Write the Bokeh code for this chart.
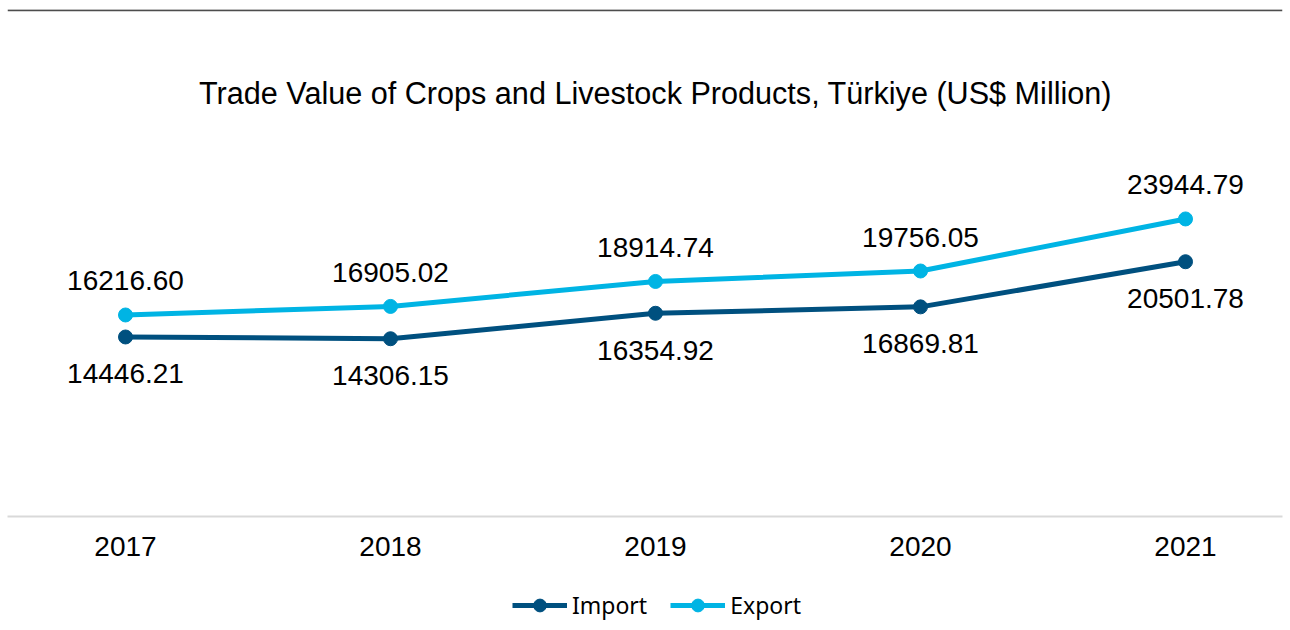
from bokeh.plotting import figure
from bokeh.layouts import column
from bokeh.core.properties import value
from bokeh.models import (ColumnDataSource, Range1d, FixedTicker, LabelSet, Label,
                          Span, Legend, LegendItem)
from bokeh.embed import file_html
from bokeh.resources import INLINE

years = ["2017", "2018", "2019", "2020", "2021"]
import_vals = [14446.21, 14306.15, 16354.92, 16869.81, 20501.78]
export_vals = [16216.60, 16905.02, 18914.74, 19756.05, 23944.79]
series_names = ["Import", "Export"]

IMPORT_COLOR = "#00507f"
EXPORT_COLOR = "#00b4e4"
FONT = "Liberation Sans"

idx = list(range(len(years)))
src = ColumnDataSource(dict(
    x=idx,
    imp=import_vals,
    exp=export_vals,
    imp_txt=["%.2f" % v for v in import_vals],
    exp_txt=["%.2f" % v for v in export_vals],
))

p = figure(width=1290, height=580, output_backend="svg", toolbar_location=None,
           x_range=Range1d(-0.4453, 4.366), y_range=Range1d(0, 40800),
           min_border_left=7, min_border_right=8, min_border_top=9,
           min_border_bottom=64)
p.outline_line_color = None
p.grid.visible = False
p.yaxis.visible = False

ax = p.xaxis[0]
ax.ticker = FixedTicker(ticks=idx)
ax.major_label_overrides = {i: y for i, y in zip(idx, years)}
ax.axis_line_color = "#d9d9d9"
ax.axis_line_width = 2
ax.major_tick_line_color = None
ax.minor_tick_line_color = None
ax.major_label_standoff = 14
ax.major_label_text_font = FONT
ax.major_label_text_font_size = "28px"
ax.major_label_text_color = "#000000"

# top rule
p.add_layout(Span(location=40800 * 0.9985, dimension="width", line_color="#4d4d4d",
                  line_width=2))

# title
p.add_layout(Label(x=2, y=34041, text="Trade Value of Crops and Livestock Products, Türkiye (US$ Million)",
                   text_font=FONT, text_font_size="30.6px", text_color="#000000",
                   text_align="center", text_baseline="middle"))

p.line("x", "imp", source=src, line_color=IMPORT_COLOR, line_width=5)
p.scatter("x", "imp", source=src, size=14, fill_color=IMPORT_COLOR, line_color=IMPORT_COLOR)
p.line("x", "exp", source=src, line_color=EXPORT_COLOR, line_width=5)
p.scatter("x", "exp", source=src, size=14, fill_color=EXPORT_COLOR, line_color=EXPORT_COLOR)

p.add_layout(LabelSet(x="x", y="exp", text="exp_txt", source=src, y_offset=34,
                      text_font=value(FONT), text_font_size="28px", text_color="#000000",
                      text_align="center", text_baseline="middle"))
p.add_layout(LabelSet(x="x", y="imp", text="imp_txt", source=src, y_offset=-37,
                      text_font=value(FONT), text_font_size="28px", text_color="#000000",
                      text_align="center", text_baseline="middle"))

# legend strip
lg = figure(width=1290, height=50, output_backend="svg", toolbar_location=None,
            x_range=Range1d(0, 1), y_range=Range1d(0, 1),
            min_border_left=0, min_border_right=0, min_border_top=0, min_border_bottom=0)
lg.outline_line_color = None
lg.grid.visible = False
lg.axis.visible = False
items = []
nan = float("nan")
for name, color in zip(series_names, [IMPORT_COLOR, EXPORT_COLOR]):
    r1 = lg.line(x=[nan, nan], y=[nan, nan], line_color=color, line_width=5)
    r2 = lg.scatter(x=[nan], y=[nan], size=14, fill_color=color, line_color=color)
    items.append(LegendItem(label=name, renderers=[r1, r2]))
legend = Legend(items=items, orientation="horizontal", location=(505, 9),
                glyph_width=55, glyph_height=32, label_standoff=5, spacing=23,
                padding=0, margin=0, border_line_color=None, background_fill_alpha=0,
                label_text_font="Noto Sans", label_text_font_size="23px",
                label_text_color="#000000")
lg.add_layout(legend)

layout = column(p, lg, spacing=0)
open("out.html", "w").write(file_html(layout, INLINE))
